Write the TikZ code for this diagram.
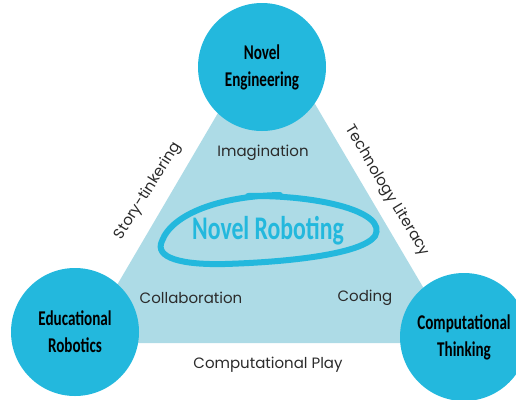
\documentclass[tikz,border=0pt]{standalone}
\usepackage{fontspec}
\setmainfont{Poppins}
\newfontfamily\handfont[FakeStretch=0.72]{Carlito}
\definecolor{hubblue}{HTML}{23B8DD}
\definecolor{paleblue}{HTML}{ADDBE6}
\definecolor{labelgray}{HTML}{2B2B2B}

\begin{document}
\begin{tikzpicture}[x=1pt,y=-1pt]
  \tikzstyle{hub}=[circle,fill=hubblue,minimum size=128pt,inner sep=0pt,align=center,text=black,
                   font=\handfont\bfseries\fontsize{21}{27}\selectfont]
  \tikzstyle{theme}=[inner sep=0pt,text=labelgray,font=\fontsize{15}{17}\selectfont]

  \useasboundingbox (0,0) rectangle (516,399);

  % shaded triangle behind the hubs
  \coordinate (T) at (269,26);
  \coordinate (L) at (83,343);
  \coordinate (R) at (456,343);
  \fill[paleblue] (T) -- (L) -- (R) -- cycle;

  \node[hub] (NE) at (262,67)  {Novel\\Engineering};
  \node[hub] (ER) at (75,332)  {Educational\\Robotics};
  \node[hub] (CT) at (464,337) {Computational\\Thinking};

  % the scribbled loop in the middle, its ends overlap at the top
  \draw[hubblue,line width=6pt,line cap=round]
    (248,196) .. controls (320,195) and (388,212) .. (375,236)
              .. controls (362,254) and (290,262) .. (225,264)
              .. controls (182,265) and (154,258) .. (162,241)
              .. controls (172,214) and (220,196) .. (280,195);
  \node[text=hubblue,font=\handfont\bfseries\fontsize{33}{36}\selectfont] (NR) at (268,231) {Novel Roboting};

  \node[theme]            (im) at (263,153) {Imagination};
  \node[theme]            (co) at (191,298) {Collaboration};
  \node[theme]            (cd) at (365,298) {Coding};
  \node[theme]            (cp) at (268,365) {Computational Play};
  \node[theme,rotate=58]  (st) at (148,191) {Story-tinkering};
  \node[theme,rotate=-59] (tl) at (387,191) {Technology Literacy};
\end{tikzpicture}
\end{document}
